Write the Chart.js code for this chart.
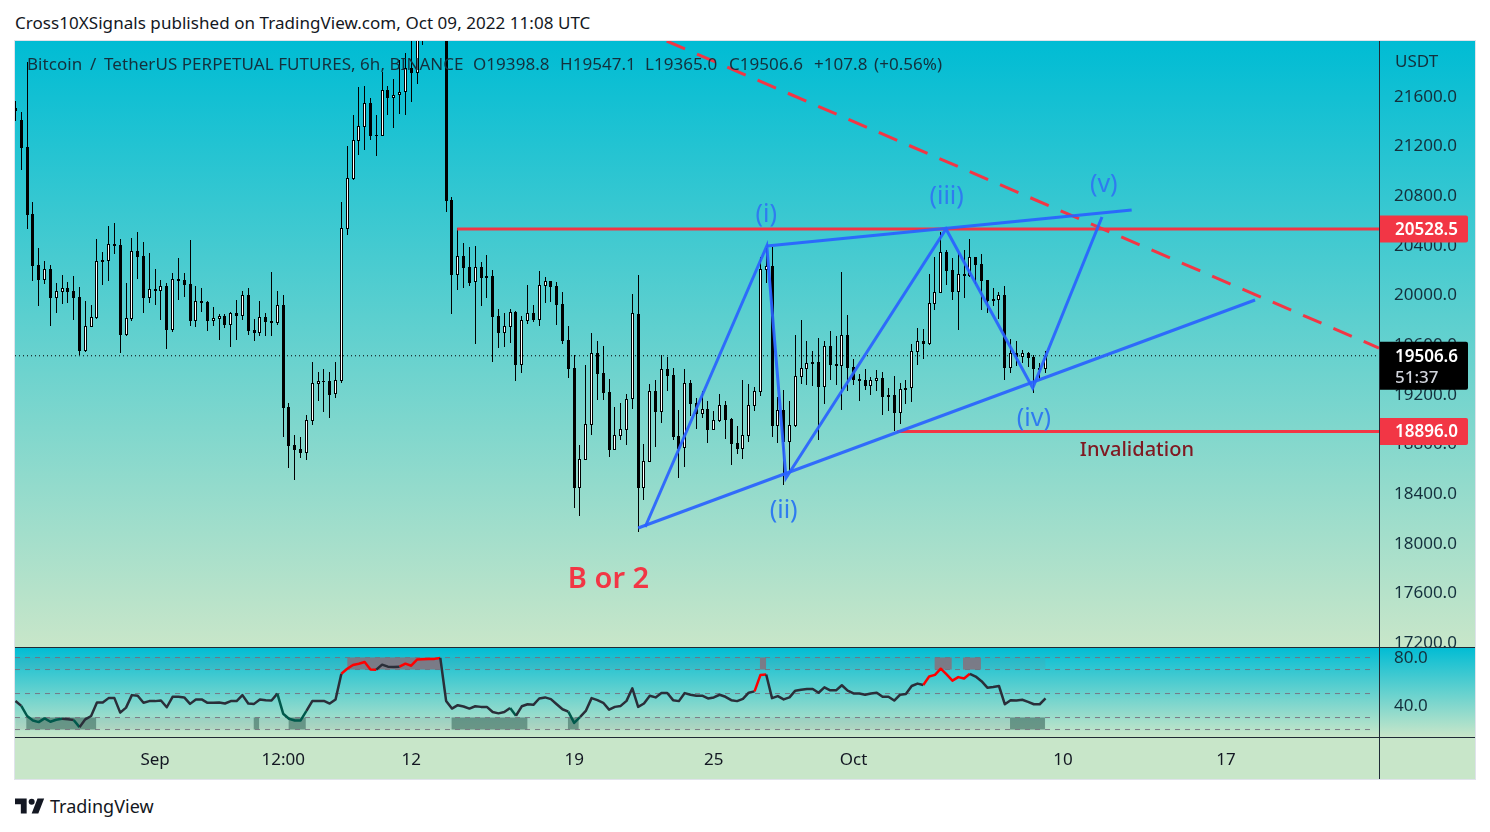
<!DOCTYPE html>
<html>
<head>
<meta charset="utf-8">
<title>BTCUSDT 6h</title>
<script src="https://cdn.jsdelivr.net/npm/chart.js@4"></script>
<style>
  html, body { margin: 0; padding: 0; background: #fff; }
  body { width: 1490px; height: 832px; position: relative; overflow: hidden; font-family: "Noto Sans", sans-serif; color: #131722; }
  .abs { position: absolute; }
  #mainBg { left: 15px; top: 41px; width: 1460px; height: 606px; background: linear-gradient(#00bcd4, #c8e6c9); }
  #rsiBg { left: 15px; top: 647px; width: 1460px; height: 90px; background: linear-gradient(#00bcd4, #c8e6c9); }
  #timeBg { left: 15px; top: 737px; width: 1460px; height: 42px; background: #c8e6c9; }
  #frame { left: 14px; top: 40px; width: 1460px; height: 738px; border: 1px solid #e0e3eb; }
  .rule { background: #1f2a36; }
  #published { left: 15px; top: 11px; font-size: 17px; letter-spacing: 0.05px; white-space: pre; }
  #legend { left: 27px; top: 52px; font-size: 17px; letter-spacing: 0.05px; white-space: pre; color: #14303d; }
  #legend span { position: absolute; top: 0; }
  #unit { left: 1395px; top: 49px; font-size: 17px; color: #14303d; }
  #brand { left: 15px; top: 794px; height: 24px; display: flex; align-items: center; font-size: 18px; color: #131722; }
  #brand svg { margin-right: 5px; }
  canvas { position: absolute; display: block; }
</style>
</head>
<body>
<div class="abs" id="mainBg"></div>
<div class="abs" id="rsiBg"></div>
<div class="abs" id="timeBg"></div>
<div class="abs" id="frame"></div>
<canvas id="priceChart" width="1460" height="606" style="left:15px;top:41px"></canvas>
<canvas id="rsiChart" width="1460" height="132" style="left:15px;top:647px"></canvas>
<div class="abs rule" style="left:15px;top:647px;width:1460px;height:1px"></div>
<div class="abs rule" style="left:15px;top:737px;width:1460px;height:1px"></div>
<div class="abs rule" style="left:1379px;top:41px;width:1px;height:738px"></div>
<div class="abs" id="published">Cross10XSignals published on TradingView.com, Oct 09, 2022 11:08 UTC</div>
<div class="abs" id="legend"><span style="left:0">Bitcoin</span><span style="left:63px">/</span><span style="left:77px">TetherUS PERPETUAL FUTURES, 6h, BINANCE</span><span style="left:446px">O19398.8</span><span style="left:533px">H19547.1</span><span style="left:618px">L19365.0</span><span style="left:702px">C19506.6</span><span style="left:787px">+107.8</span><span style="left:847px">(+0.56%)</span></div>
<div class="abs" id="unit">USDT</div>
<div class="abs" id="brand"><svg width="30" height="16" viewBox="0 0 36 18"><path fill="#131722" d="M14 18H7V7H0V0h14v18zM28 18h-8L27 0h8l-7 18z"/><circle cx="20" cy="4" r="3.6" fill="#131722"/></svg>TradingView</div>

<script>
const opens = [21500,21406,21189,20649,20238,20117,20206,19972,20020,20053,20028,
  19980,19548,19738,19811,20281,20273,20407,20399,19674,19803,
  20351,20310,19972,20045,20028,20069,19714,20125,20117,20085,
  19787,19948,19940,19787,19803,19827,19754,19851,19827,19996,
  19714,19690,19819,19787,19771,19916,19091,18788,18755,18723,
  18984,19282,19304,19301,19196,19304,20531,20931,21240,21353,
  21541,21285,21280,21645,21586,21605,21629,21823,21782,22150,
  22230,22320,22500,22560,20762,20157,20310,20222,20099,20220,
  20150,20150,19827,19693,19741,19857,19433,19790,19849,19798,
  20072,20107,20069,19924,19631,19408,18441,18670,18952,19527,
  19368,19215,18748,18860,18909,19156,19844,18441,18654,19220,
  19054,19398,19352,18860,18761,19285,19126,19038,19075,18909,
  18981,19108,18995,18804,18756,18860,19102,19215,20201,20230,
  18941,19070,18812,18941,19336,19400,19454,19454,19255,19583,
  19441,19425,19672,19416,19317,19309,19263,19306,19325,19191,
  19191,19046,19247,19244,19540,19626,19602,19924,20015,20343,
  20198,20021,20166,20150,20303,20246,20117,19964,19956,19997,
  19408,19526,19497,19529,19497,19408,19398.8];
const closes = [21482,21183,20641,20230,20117,20206,19972,20028,20053,20020,19972,
  19548,19746,19819,20270,20262,20407,20391,19674,19811,20351,
  20302,19972,20045,20028,20069,19714,20125,20109,20077,19787,
  19948,19932,19787,19811,19827,19754,19851,19827,19996,19706,
  19690,19819,19779,19771,19916,19088,18780,18747,18723,18989,
  19287,19301,19296,19191,19309,20534,20936,21243,21355,21541,
  21277,21277,21645,21584,21605,21629,21823,21782,22150,22230,
  22320,22500,22560,20754,20157,20310,20214,20093,20220,20134,
  20134,19819,19690,19744,19857,19433,19793,19849,19795,20075,
  20107,20061,19916,19626,19400,18441,18672,18954,19527,19360,
  19207,18748,18866,18914,19156,19849,18441,18656,19220,19054,
  19398,19344,18852,18756,19285,19118,19038,19075,18909,18987,
  19108,18989,18796,18756,18866,19108,19220,20203,20228,18941,
  19067,18812,18946,19341,19406,19446,19441,19255,19583,19433,
  19425,19672,19408,19312,19304,19263,19309,19325,19177,19175,
  19046,19236,19231,19543,19626,19602,19929,20018,20340,20190,
  20021,20163,20150,20300,20238,20109,19948,19948,19997,19408,
  19526,19494,19526,19489,19400,19392,19506.6];
const highs = [21559,21471,21874,20743,20372,20270,20238,20093,20157,20101,20149,
  20061,19948,19916,20447,20343,20552,20576,20447,20093,20456,
  20504,20423,20335,20206,20117,20093,20174,20294,20174,20439,
  20069,20053,19948,19900,19843,19843,19859,19956,20028,20053,
  19803,19948,19851,20182,20028,19996,19123,18868,18852,19029,
  19456,19374,19400,19374,19457,20743,21197,21447,21672,21680,
  21581,21447,21796,21680,21737,21890,21944,22100,22250,22400,
  22500,22620,22700,22650,20783,20534,20413,20383,20391,20263,
  20319,20198,19884,19852,19884,19868,19827,20077,19916,20190,
  20142,20109,20101,20021,19747,19513,18788,19433,19690,19626,
  19586,19320,19094,19126,19199,20005,20158,18796,19279,19312,
  19513,19497,19408,19070,19400,19312,19164,19223,19142,19062,
  19199,19142,19005,18941,19312,19279,19255,20303,20375,20383,
  19175,19231,19142,19674,19795,19626,19545,19650,19626,19707,
  19666,20182,19835,19481,19360,19400,19336,19392,19376,19247,
  19344,19287,19312,19602,19731,19723,20166,20303,20504,20359,
  20292,20335,20359,20448,20303,20327,20117,20053,20021,20069,
  19642,19626,19553,19537,19513,19449,19547.1];
const lows = [21398,21003,20528,20109,19908,20085,19746,19851,19924,19932,19795,
  19513,19540,19735,19806,20077,20109,20327,19532,19669,19787,
  20125,19851,19932,19916,19795,19561,19698,19956,19980,19746,
  19738,19859,19706,19746,19634,19730,19577,19634,19795,19674,
  19626,19666,19666,19666,19754,18855,18602,18506,18683,18667,
  18949,19142,19054,19005,19167,19288,20480,20923,21124,21165,
  21245,21116,21280,21447,21342,21455,21447,21551,21696,22011,
  22060,22120,22300,20665,19843,20037,20053,20069,19602,19908,
  19972,19457,19570,19578,19610,19304,19368,19763,19779,19747,
  19932,19940,19755,19602,19328,18280,18216,18670,18869,19151,
  19151,18691,18748,18828,18788,19078,18087,18345,18654,18772,
  18965,19223,18828,18522,18611,19022,18917,19005,18804,18909,
  18973,18836,18627,18715,18675,18812,19062,19183,20093,18852,
  18804,18466,18562,18933,19280,19271,19263,18828,19118,19312,
  19271,19070,19223,19271,19142,19231,19191,19223,19030,19062,
  18901,18957,19118,19134,19432,19481,19594,19876,20015,20077,
  19956,19714,19972,20142,20085,19876,19851,19908,19803,19312,
  19368,19424,19449,19416,19207,19312,19365];
const rsiValues = [43.9,39.7,31.3,27.6,26.2,29.3,26.5,28.2,29.0,28.5,27.9,
  22.0,28.5,31.3,42.5,42.5,46.2,46.2,34.1,38.3,48.7,
  48.2,42.3,43.7,43.7,44.2,38.6,47.3,47.3,46.8,41.4,
  45.1,45.1,42.3,42.3,42.5,41.7,43.7,43.7,48.7,41.7,
  41.4,45.1,44.5,44.2,49.9,33.2,29.0,27.6,27.6,35.5,
  43.7,43.9,43.9,41.7,45.1,66.5,70.7,73.8,74.9,76.3,
  70.1,69.9,74.1,72.4,72.1,72.4,74.9,73.2,78.3,78.6,
  78.9,78.9,79.7,43.9,37.5,40.3,39.2,37.5,39.4,38.9,
  38.9,34.6,33.5,34.6,38.0,31.5,39.4,41.1,40.6,45.9,
  46.8,45.4,41.1,36.9,34.9,25.6,30.4,35.5,46.2,44.5,
  42.3,36.6,38.9,39.7,43.9,54.4,38.9,41.7,48.2,46.8,
  50.4,50.4,44.5,43.7,50.4,49.0,48.2,48.2,45.9,46.8,
  49.0,47.3,44.5,43.7,45.6,50.7,51.8,65.4,65.9,46.2,
  47.9,45.1,46.8,52.4,53.2,53.8,53.8,50.7,55.2,52.7,
  52.7,56.9,52.4,50.1,50.1,49.0,50.1,50.7,47.3,47.3,
  44.2,49.0,49.6,56.3,58.3,57.2,64.2,65.6,70.7,65.9,
  60.8,63.7,62.5,66.5,64.2,60.3,54.9,55.5,56.3,41.1,
  44.5,44.2,44.8,43.1,41.1,41.1,45.9];

const priceTicks = [17200,17600,18000,18400,18800,19200,19600,20000,20400,20800,21200,21600];
const rsiTicks = [40,80];
const rsiLevels = [80,70,50,30,20];
const timeTicks = [24,46,68,96,120,144,180,208];
const timeLabels = ['Sep','12:00','12','19','25','Oct','10','17'];

const xMin = -0.08, xMax = 234.3;
const lastPrice = 19506.6, resistance = 20528.5, invalidation = 18896;

const waveX = [108.2,129.1,132.4,159.9,174.8,186.7];
const waveY = [18127,20391,18522,20528,19247,20625];
const lowerTrendX = [107,213];
const lowerTrendY = [18119,19956];
const upperTrendX = [129.1,191.8];
const upperTrendY = [20391,20681];
const fallingX = [111.9,234.3];
const fallingY = [22043,19569];
const resistanceStart = 75.9;
const invalidationStart = 151.5;

const waveNames = ['(i)','(ii)','(iii)','(iv)','(v)'];
const waveNameX = [129,132,160,175,187];
const waveNameY = [20641,18256,20786,18997,20883];

// index ranges on the rsi pane
const redRanges = [[56,62],[66,73],[127,129],[156,164]];
const greenRanges = [[1,8],[10,11],[45,50],[85,86],[95,97]];
const oversoldZones = [[1.84,13.9],[40.9,41.9],[46.9,49.9],[74.9,88],[94.9,96.8],[170.9,176.9]];
const overboughtZones = [[57,73],[127.9,129],[157.9,160.9],[162.8,165.9]];
const zoneSpan = [0,177];

const FONT = '"Noto Sans", sans-serif';
const INK = '#14303d';
const RED = '#f23645';
const BLUE = 'rgba(41,98,255,0.92)';

function pts(xs, ys) {
  return xs.map((x, i) => ({ x: x, y: ys[i] }));
}
function flat(x0, x1, y) {
  return [{ x: x0, y: y }, { x: x1, y: y }];
}
function lineSet(data, color, width, extra) {
  return Object.assign({ type: 'line', data: data, borderColor: color, borderWidth: width,
    pointRadius: 0, tension: 0, fill: false, order: 1 }, extra || {});
}
// labels must not eat into the panes
function fitY(s) {
  s.width = 96;
  s.paddingTop = 0;
  s.paddingBottom = 0;
}

// canvas bars look soft on half pixels, the real chart has crisp candles
const snapBars = {
  id: 'snapBars',
  afterDatasetsUpdate(chart) {
    chart.getSortedVisibleDatasetMetas().forEach(meta => {
      if (meta.type !== 'bar') return;
      meta.data.forEach(el => {
        el.x = Math.floor(el.x) + 0.5;
        el.y = Math.round(el.y);
        el.base = Math.round(el.base);
      });
    });
  }
};

function tag(ctx, x, y, w, h, color) {
  ctx.fillStyle = color;
  ctx.beginPath();
  ctx.roundRect(x, y, w, h, [0, 2, 2, 0]);
  ctx.fill();
}

const priceNotes = {
  id: 'priceNotes',
  afterDatasetsDraw(chart) {
    const ctx = chart.ctx, xs = chart.scales.x, ys = chart.scales.y;
    ctx.save();
    ctx.textAlign = 'center';
    ctx.textBaseline = 'middle';
    ctx.fillStyle = '#2f7bf0';
    ctx.font = '25px ' + FONT;
    waveNames.forEach((t, i) => ctx.fillText(t, xs.getPixelForValue(waveNameX[i]), ys.getPixelForValue(waveNameY[i])));
    ctx.fillStyle = RED;
    ctx.font = '600 29px ' + FONT;
    ctx.fillText('B or 2', xs.getPixelForValue(101.9), ys.getPixelForValue(17700));
    ctx.fillStyle = '#801922';
    ctx.font = '500 20px ' + FONT;
    ctx.fillText('Invalidation', xs.getPixelForValue(192.7), ys.getPixelForValue(18748));

    // tags on the price scale
    const left = chart.chartArea.right;
    ctx.textAlign = 'left';
    ctx.font = '600 17px ' + FONT;
    [resistance, invalidation].forEach(p => {
      const y = ys.getPixelForValue(p);
      tag(ctx, left, y - 13.5, 89, 27, RED);
      ctx.fillStyle = '#fff';
      ctx.fillText(p.toFixed(1), left + 16, y + 1);
    });
    const y = ys.getPixelForValue(lastPrice);
    tag(ctx, left, y - 14, 89, 48, '#000');
    ctx.fillStyle = '#fff';
    ctx.fillText(lastPrice.toFixed(1), left + 16, y + 1);
    ctx.fillStyle = '#d1d4dc';
    ctx.font = '500 17px ' + FONT;
    ctx.fillText('51:37', left + 16, y + 22);
    ctx.restore();
  }
};

new Chart(document.getElementById('priceChart'), {
  type: 'bar',
  data: {
    datasets: [
      { label: 'wicks', data: lows.map((l, i) => ({ x: i, y: [l, highs[i]] })), backgroundColor: '#000',
        barThickness: 1, inflateAmount: 0, grouped: false, order: 6 },
      { label: 'bodies', data: opens.map((o, i) => ({ x: i, y: [o, closes[i]] })),
        backgroundColor: c => closes[c.dataIndex] >= opens[c.dataIndex] ? '#fff' : '#000',
        borderColor: '#000', borderWidth: 1, borderSkipped: false,
        barThickness: 3, inflateAmount: 0, grouped: false, order: 5 },
      lineSet(flat(xMin, xMax, lastPrice), '#000', 1, { borderDash: [1, 3], order: 7 }),
      lineSet(flat(resistanceStart, xMax, resistance), RED, 3, { order: 4 }),
      lineSet(flat(invalidationStart, xMax, invalidation), RED, 3, { order: 4 }),
      lineSet(pts(fallingX, fallingY), RED, 3, { borderDash: [20, 13], order: 3 }),
      lineSet(pts(waveX, waveY), BLUE, 3),
      lineSet(pts(lowerTrendX, lowerTrendY), BLUE, 3),
      lineSet(pts(upperTrendX, upperTrendY), BLUE, 3)
    ]
  },
  options: {
    responsive: false,
    animation: false,
    events: [],
    layout: { padding: 0 },
    scales: {
      x: { type: 'linear', min: xMin, max: xMax, offset: false, display: false, grid: { display: false } },
      y: {
        position: 'right',
        min: 17160,
        max: 22043,
        grid: { display: false },
        border: { display: false },
        afterFit: fitY,
        afterBuildTicks(s) { s.ticks = priceTicks.map(v => ({ value: v })); },
        ticks: { color: INK, padding: 7, labelOffset: 1, font: { family: FONT, size: 17 }, callback: v => v.toFixed(1) }
      }
    },
    plugins: { legend: { display: false }, tooltip: { enabled: false } }
  },
  plugins: [snapBars, priceNotes]
});

const rsiDatasets = [];
rsiDatasets.push(lineSet(flat(zoneSpan[0], zoneSpan[1], 80), 'transparent', 0, { fill: { value: 70 }, backgroundColor: 'rgba(120,123,134,0.12)', order: 9 }));
rsiDatasets.push(lineSet(flat(zoneSpan[0], zoneSpan[1], 30), 'transparent', 0, { fill: { value: 20 }, backgroundColor: 'rgba(120,123,134,0.12)', order: 9 }));
overboughtZones.forEach(z => rsiDatasets.push(lineSet(flat(z[0], z[1], 80), 'transparent', 0, { fill: { value: 70 }, backgroundColor: 'rgba(135,112,123,0.85)', order: 8 })));
oversoldZones.forEach(z => rsiDatasets.push(lineSet(flat(z[0], z[1], 30), 'transparent', 0, { fill: { value: 20 }, backgroundColor: 'rgba(60,107,95,0.6)', order: 8 })));
rsiLevels.forEach(v => rsiDatasets.push(lineSet(flat(xMin, xMax - 1, v), 'rgba(120,110,125,0.9)', 1, { borderDash: [5, 5], order: 7 })));

function inRange(ranges, k) {
  return ranges.some(r => k >= r[0] && k < r[1]);
}
rsiDatasets.push(lineSet(rsiValues.map((v, i) => ({ x: i, y: v })), '#2a2e39', 2.5, {
  borderJoinStyle: 'round',
  segment: {
    borderColor: c => inRange(redRanges, c.p0DataIndex) ? '#ff0000' : inRange(greenRanges, c.p0DataIndex) ? '#00594c' : '#2a2e39'
  }
}));

new Chart(document.getElementById('rsiChart'), {
  type: 'line',
  data: { datasets: rsiDatasets },
  options: {
    responsive: false,
    animation: false,
    events: [],
    layout: { padding: 0 },
    scales: {
      x: {
        type: 'linear',
        min: xMin,
        max: xMax,
        offset: false,
        grid: { display: false },
        border: { display: false },
        afterFit(s) { s.height = 42; s.paddingLeft = 0; s.paddingRight = 0; },
        afterBuildTicks(s) { s.ticks = timeTicks.map(v => ({ value: v })); },
        ticks: {
          color: '#131722',
          padding: 5,
          maxRotation: 0,
          autoSkip: false,
          font: { family: FONT, size: 17 },
          callback: v => timeLabels[timeTicks.indexOf(v)]
        }
      },
      y: {
        position: 'right',
        min: 13.8,
        max: 88.8,
        grid: { display: false },
        border: { display: false },
        afterFit: fitY,
        afterBuildTicks(s) { s.ticks = rsiTicks.map(v => ({ value: v })); },
        ticks: { color: INK, padding: 7, labelOffset: 1, font: { family: FONT, size: 17 }, callback: v => v.toFixed(1) }
      }
    },
    plugins: { legend: { display: false }, tooltip: { enabled: false } }
  }
});
</script>
</body>
</html>
